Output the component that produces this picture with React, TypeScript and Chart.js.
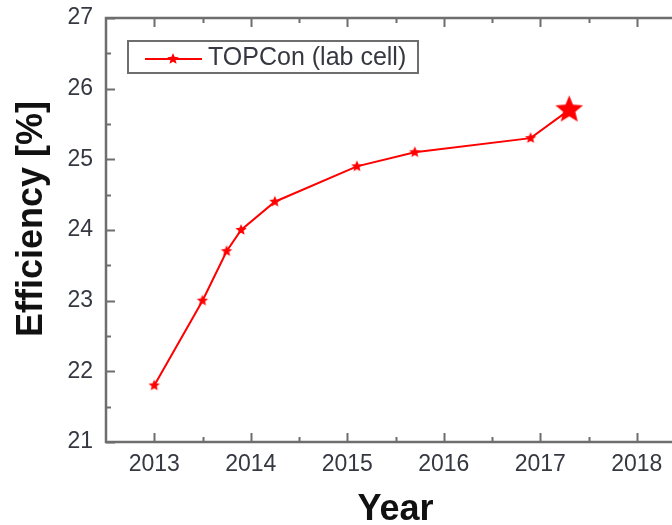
import { useEffect, useRef } from 'react';
import { Chart, registerables } from 'chart.js';

Chart.register(...registerables);

// ---- data ----
const years = [2013.0, 2013.5, 2013.75, 2013.9, 2014.25, 2015.1, 2015.7, 2016.9, 2017.3];
const efficiency = [21.8, 23.0, 23.7, 24.0, 24.4, 24.9, 25.1, 25.3, 25.7];
const xTickYears = [2013, 2014, 2015, 2016, 2017, 2018];
const yTickValues = [21, 22, 23, 24, 25, 26, 27];
const seriesLabel = 'TOPCon (lab cell)';
const xTitle = 'Year';
const yTitle = 'Efficiency [%]';

const FONT = '"Liberation Sans", Arial, sans-serif';
const AXIS = '#6e6e6e';
const TICK_TEXT = '#353840';
const RED = '#ff0000';

function makeStar(r: number, color: string) {
  const c = document.createElement('canvas');
  const size = Math.ceil(r * 2 + 2);
  c.width = size;
  c.height = size;
  const ctx = c.getContext('2d')!;
  const cx = size / 2;
  const cy = size / 2;
  ctx.beginPath();
  for (let i = 0; i < 10; i++) {
    const rad = i % 2 === 0 ? r : r * 0.44;
    const a = -Math.PI / 2 + (i * Math.PI) / 5;
    const px = cx + rad * Math.cos(a);
    const py = cy + rad * Math.sin(a);
    if (i === 0) ctx.moveTo(px, py);
    else ctx.lineTo(px, py);
  }
  ctx.closePath();
  ctx.fillStyle = color;
  ctx.fill();
  return c;
}

export default function App() {
  const ref = useRef<HTMLCanvasElement | null>(null);

  useEffect(() => {
    const canvas = ref.current;
    if (!canvas) return;
    const smallStar = makeStar(6, RED);
    const bigStar = makeStar(14.5, RED);
    const styles = efficiency.map((_, i) => (i === efficiency.length - 1 ? bigStar : smallStar));

    const framePlugin = {
      id: 'frame',
      beforeDatasetsDraw(chart: any) {
        const { ctx, chartArea, scales } = chart;
        const { left, right, top, bottom } = chartArea;
        const xs = scales.x;
        const ys = scales.y;
        ctx.save();
        ctx.strokeStyle = AXIS;
        ctx.lineWidth = 2.5;
        ctx.strokeRect(left, top, right - left, bottom - top);
        ctx.lineWidth = 2;
        const yAll: [number, number][] = [];
        yTickValues.forEach((v, i) => {
          yAll.push([v, 9]);
          if (i < yTickValues.length - 1) yAll.push([(v + yTickValues[i + 1]) / 2, 5]);
        });
        yAll.forEach(([v, len]) => {
          const py = Math.round(ys.getPixelForValue(v)) + 0.5;
          ctx.beginPath();
          ctx.moveTo(left, py);
          ctx.lineTo(left + len, py);
          ctx.moveTo(right, py);
          ctx.lineTo(right - len, py);
          ctx.stroke();
        });
        const xAll: [number, number][] = [];
        xTickYears.forEach((v, i) => {
          xAll.push([v, 9]);
          if (i < xTickYears.length - 1) xAll.push([(v + xTickYears[i + 1]) / 2, 5]);
        });
        xAll.forEach(([v, len]) => {
          const px = Math.round(xs.getPixelForValue(v)) + 0.5;
          ctx.beginPath();
          ctx.moveTo(px, bottom);
          ctx.lineTo(px, bottom - len);
          ctx.moveTo(px, top);
          ctx.lineTo(px, top + len);
          ctx.stroke();
        });
        // y axis title
        ctx.save();
        ctx.translate(32, (top + bottom) / 2 - 11);
        ctx.rotate(-Math.PI / 2);
        ctx.fillStyle = '#111111';
        ctx.font = `bold 36px ${FONT}`;
        ctx.textAlign = 'center';
        ctx.textBaseline = 'middle';
        ctx.fillText(yTitle, 0, 0);
        ctx.restore();
        ctx.restore();
      },
      afterDatasetsDraw(chart: any) {
        const { ctx, chartArea } = chart;
        const bx = chartArea.left + 22;
        const by = chartArea.top + 23;
        const bw = 290;
        const bh = 32;
        ctx.save();
        ctx.fillStyle = '#ffffff';
        ctx.fillRect(bx, by, bw, bh);
        ctx.strokeStyle = AXIS;
        ctx.lineWidth = 2;
        ctx.strokeRect(bx, by, bw, bh);
        const ly = by + bh / 2 + 2;
        ctx.strokeStyle = RED;
        ctx.lineWidth = 2;
        ctx.beginPath();
        ctx.moveTo(bx + 17, ly);
        ctx.lineTo(bx + 74, ly);
        ctx.stroke();
        ctx.drawImage(smallStar, bx + 45 - smallStar.width / 2, ly - smallStar.height / 2);
        ctx.fillStyle = TICK_TEXT;
        ctx.font = `25px ${FONT}`;
        ctx.textBaseline = 'middle';
        ctx.textAlign = 'left';
        ctx.fillText(seriesLabel, bx + 80, by + bh / 2 + 1);
        ctx.restore();
      },
    };

    const chart = new Chart(canvas, {
      type: 'line',
      data: {
        datasets: [
          {
            label: seriesLabel,
            data: years.map((x, i) => ({ x, y: efficiency[i] })),
            borderColor: RED,
            backgroundColor: RED,
            borderWidth: 2,
            tension: 0,
            pointStyle: styles as any,
            pointRadius: 6,
          },
        ],
      },
      options: {
        animation: false,
        responsive: false,
        devicePixelRatio: 1,
        layout: { padding: { left: 0, top: 18, right: 15, bottom: 0 } },
        plugins: { legend: { display: false }, tooltip: { enabled: false } },
        scales: {
          x: {
            type: 'linear',
            min: 2012.5,
            max: 2018.5,
            afterBuildTicks: (s: any) => {
              s.ticks = xTickYears.map((v) => ({ value: v }));
            },
            afterFit: (s: any) => {
              s.height = 83;
              s.paddingLeft = 0;
              s.paddingRight = 0;
            },
            grid: { display: false, drawTicks: false },
            border: { display: false },
            ticks: {
              padding: 9,
              color: TICK_TEXT,
              maxRotation: 0,
              autoSkip: false,
              font: { family: FONT, size: 23 },
              callback: (v: any) => String(v),
            },
            title: {
              display: true,
              text: xTitle,
              color: '#111111',
              font: { family: FONT, size: 36, weight: 'bold', lineHeight: 0.85 },
              padding: { top: 0, bottom: 0 },
            },
          },
          y: {
            type: 'linear',
            min: 21,
            max: 27,
            afterBuildTicks: (s: any) => {
              s.ticks = yTickValues.map((v) => ({ value: v }));
            },
            afterFit: (s: any) => {
              s.width = 106;
              s.paddingTop = 0;
              s.paddingBottom = 0;
            },
            grid: { display: false, drawTicks: false },
            border: { display: false },
            ticks: {
              padding: 13,
              color: TICK_TEXT,
              font: { family: FONT, size: 23 },
              callback: (v: any) => String(v),
            },
            title: { display: false },
          },
        },
      },
      plugins: [framePlugin],
    });
    return () => chart.destroy();
  }, []);

  return (
    <div
      style={{
        position: 'fixed',
        left: 0,
        top: 0,
        width: 672,
        height: 525,
        overflow: 'hidden',
        background: '#fff',
      }}
    >
      <canvas ref={ref} width={700} height={525} style={{ display: 'block' }} />
    </div>
  );
}
